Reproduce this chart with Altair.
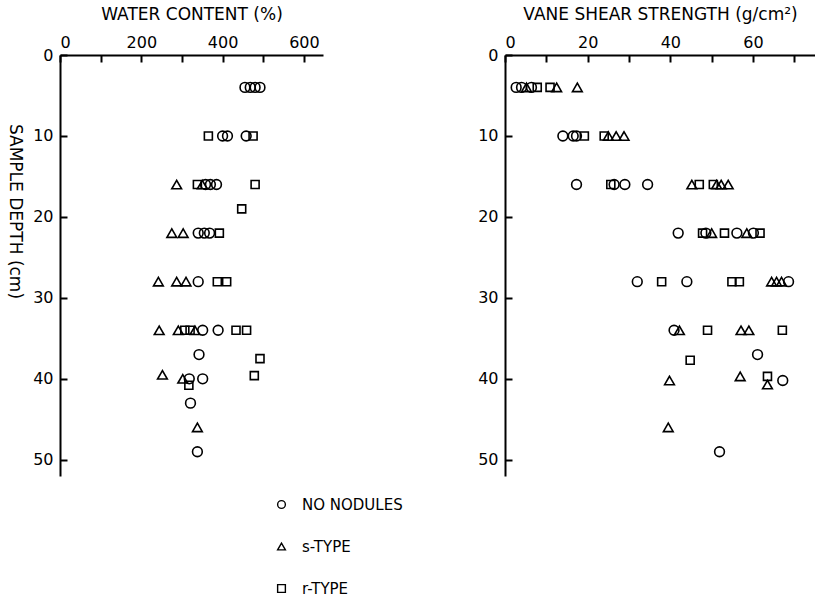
import altair as alt
import pandas as pd

FONT = "DejaVu Sans"
TYPES = ["NO NODULES", "s-TYPE", "r-TYPE"]
SHAPES = ["circle", "triangle-up", "square"]

# Water content (%) against sample depth (cm): (depth, value)
wc_none = [(4, 455), (4, 468), (4, 480), (4, 492),
           (10, 400), (10, 412), (10, 458),
           (16, 358), (16, 370), (16, 385),
           (22, 340), (22, 355), (22, 368),
           (28, 340), (34, 351), (34, 389), (37, 342),
           (40, 318), (40, 351), (43, 321), (49, 338)]
wc_s = [(16, 287), (16, 350), (22, 275), (22, 303),
        (28, 242), (28, 287), (28, 310),
        (34, 244), (34, 291), (34, 332),
        (39.5, 252), (40, 302), (46, 338)]
wc_r = [(10, 365), (10, 475), (16, 338), (16, 480), (19, 447),
        (22, 392), (28, 387), (28, 410),
        (34, 307), (34, 320), (34, 433), (34, 459),
        (37.5, 492), (39.6, 478), (40.8, 317)]

# Vane shear strength (g/cm2) against sample depth (cm): (depth, value)
vs_none = [(4, 2.7), (4, 4.0), (4, 6.4),
           (10, 14.0), (10, 16.5), (10, 17.3),
           (16, 17.3), (16, 26.4), (16, 29.0), (16, 34.5),
           (22, 41.9), (22, 48.6), (22, 56.1), (22, 60.1),
           (28, 32.0), (28, 44.0), (28, 68.6),
           (34, 40.9), (37, 61.1), (40.2, 67.2), (49, 51.9)]
vs_s = [(4, 5.2), (4, 12.5), (4, 17.5),
        (10, 25.0), (10, 26.9), (10, 28.8),
        (16, 45.2), (16, 51.2), (16, 52.3), (16, 54.0),
        (22, 50.0), (22, 58.5),
        (28, 64.5), (28, 65.7), (28, 66.9),
        (34, 42.2), (34, 57.1), (34, 59.0),
        (39.7, 56.9), (40.2, 39.8), (40.7, 63.5), (46, 39.5)]
vs_r = [(4, 7.8), (4, 10.9), (10, 19.2), (10, 24.0),
        (16, 25.6), (16, 47.0), (16, 50.4),
        (22, 47.8), (22, 53.1), (22, 61.7),
        (28, 37.9), (28, 54.9), (28, 56.7),
        (34, 49.0), (34, 67.1), (37.7, 44.8), (39.7, 63.5)]


def frame(groups):
    rows = []
    for kind, pts in zip(TYPES, groups):
        for d, v in pts:
            rows.append({"depth": d, "value": v, "type": kind})
    return pd.DataFrame(rows)


PLOT_H = 421
DEPTH_MAX = 52


def panel(df, title, xmax, width, step, label_step, ytitle, legend):
    xticks = [v for v in range(0, int(xmax) + 1, step)]
    x = alt.X(
        "value:Q",
        scale=alt.Scale(domain=[0, xmax], nice=False, zero=True),
        axis=alt.Axis(
            orient="top", title=title, values=xticks, grid=False,
            labelExpr=f"datum.value % {label_step} === 0 ? datum.label : ''",
            tickSize={"expr": "-7"}, labelPadding=12, titlePadding=11,
        ),
    )
    yaxis = dict(values=[0, 10, 20, 30, 40, 50], grid=False,
                 tickSize={"expr": "-7"}, labelPadding=14)
    if ytitle:
        yaxis.update(title=ytitle, titleAngle=90, titlePadding=27,
                     titleY=156, titleAlign="center")
    else:
        yaxis.update(title=None)
    y = alt.Y("depth:Q",
              scale=alt.Scale(domain=[0, DEPTH_MAX], nice=False, reverse=True),
              axis=alt.Axis(**yaxis))
    shape = alt.Shape("type:N", scale=alt.Scale(domain=TYPES, range=SHAPES),
                      legend=legend)
    return (
        alt.Chart(df)
        .mark_point(filled=False, color="black", strokeWidth=1.6, opacity=1)
        .encode(
            x=x, y=y, shape=shape,
            size=alt.condition("datum.type === 'r-TYPE'",
                               alt.value(64), alt.value(95)),
        )
        .properties(width=width, height=PLOT_H)
    )


key = alt.Legend(
    orient="none", legendX=214, legendY=442, title=None,
    labelFont=FONT, labelFontSize=15, labelColor="black", labelOffset=13,
    symbolSize=60, symbolStrokeWidth=1.4, symbolStrokeColor="black",
    rowPadding=26, padding=0,
)

left = panel(frame([wc_none, wc_s, wc_r]), "WATER CONTENT (%)", 647, 263,
             100, 200, "SAMPLE DEPTH (cm)", key)
right = panel(frame([vs_none, vs_s, vs_r]), "VANE SHEAR STRENGTH (g/cm²)",
              75, 310, 10, 20, None, None)

chart = (
    alt.hconcat(left, right, spacing=182, bounds="flush")
    .resolve_scale(x="independent", shape="independent")
    .resolve_legend(shape="independent")
    .properties(padding={"left": 6, "top": 5, "right": 0, "bottom": 4},
                background="white")
    .configure_view(stroke=None)
    .configure_axis(
        domainColor="black", domainWidth=2, tickColor="black", tickWidth=2,
        labelFont=FONT, labelFontSize=16, labelColor="black",
        titleFont=FONT, titleFontSize=17, titleFontWeight="normal",
        titleColor="black",
    )
)

chart.save("out.html", embed_options={"renderer": "svg", "actions": False})
